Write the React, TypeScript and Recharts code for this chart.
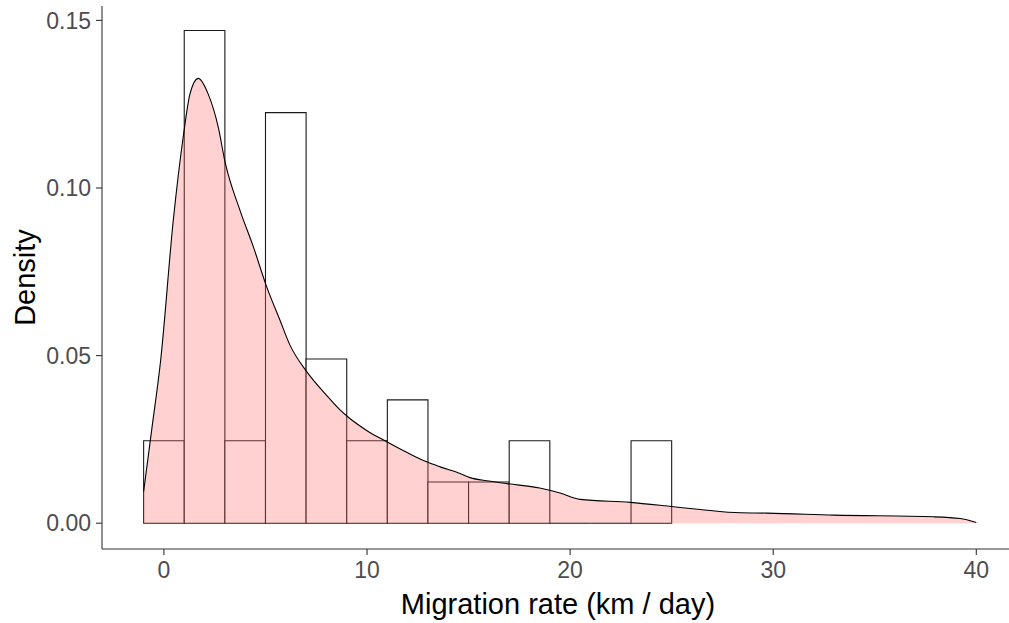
import { Area, ComposedChart, Label, ReferenceArea, ReferenceLine, XAxis, YAxis } from "recharts";

// kernel density estimate
const densityX = [
  -1, -0.6, -0.16, 0.46, 0.95, 1.28, 1.69, 2.18, 2.68, 3.0, 3.74, 4.4, 5.06, 5.71, 6.2, 7.03, 8.0,
  8.67, 9.08, 10.0, 10.97, 12.0, 12.94, 13.6, 14.58, 15.07, 16.0, 16.88, 18.5, 19.5, 20.5, 22.96,
  25.1, 26.4, 28.4, 29.7, 33.0, 37.9, 39.2, 40,
];
const densityY = [
  0.0095, 0.028, 0.0487, 0.0904, 0.1153, 0.128, 0.1327, 0.128, 0.118, 0.108, 0.0934, 0.0825,
  0.0705, 0.0606, 0.0532, 0.0452, 0.0382, 0.0338, 0.0316, 0.0276, 0.0243, 0.021, 0.0183, 0.0168,
  0.0148, 0.0136, 0.0126, 0.0118, 0.0105, 0.009, 0.0071, 0.0062, 0.0049, 0.0041, 0.0031, 0.003,
  0.0024, 0.0019, 0.0014, 0.0002,
];

// histogram, binwidth 2
const binStarts = [-1, 1, 3, 5, 7, 9, 11, 13, 15, 17, 19, 21, 23];
const binDensity = [
  0.0246, 0.147, 0.0246, 0.1225, 0.049, 0.0246, 0.0368, 0.0123, 0.0123, 0.0246, 0, 0, 0.0246,
];
const BIN_WIDTH = 2;

const xTicks = [0, 10, 20, 30, 40];
const yTicks = [0, 0.05, 0.1, 0.15];

const FONT = "'Liberation Sans', Arial, sans-serif";
const AXIS = "#333333";
const BAR_LINE = "#1a1a1a";
const TICK_TEXT = { fill: "#4D4D4D", fontSize: 23, fontFamily: FONT };

const data = densityX.map((x, i) => ({ x, y: densityY[i] }));

function XTitle(props: any) {
  const vb = props.viewBox ?? { x: 0, y: 0, width: 0 };
  return (
    <text x={558} y={vb.y + 65} textAnchor="middle" fontSize={29} fontFamily={FONT} fill="#000">
      Migration rate (km / day)
    </text>
  );
}

function YTitle(props: any) {
  const vb = props.viewBox ?? { x: 0, y: 0, height: 0 };
  const cy = vb.y + vb.height / 2;
  return (
    <text
      x={35}
      y={cy}
      transform={`rotate(-90 35 ${cy})`}
      textAnchor="middle"
      fontSize={29}
      fontFamily={FONT}
      fill="#000"
    >
      Density
    </text>
  );
}

export default function App() {
  return (
    <div style={{ position: "absolute", left: 0, top: 0, width: 1009, height: 623, overflow: "hidden", background: "#fff" }}>
      <ComposedChart width={1009} height={623} data={data} margin={{ top: 6, right: 0, bottom: 0, left: 0 }}>
        <XAxis
          type="number"
          dataKey="x"
          domain={[-3.05, 41.61]}
          allowDataOverflow
          ticks={xTicks}
          height={74}
          tick={TICK_TEXT}
          tickSize={6}
          tickMargin={7}
          stroke={AXIS}
          strokeWidth={1.1}
        >
          <Label content={XTitle} />
        </XAxis>
        <YAxis
          type="number"
          domain={[-0.0077, 0.1543]}
          allowDataOverflow
          ticks={yTicks}
          tickFormatter={(v: number) => v.toFixed(2)}
          width={102}
          tick={TICK_TEXT}
          tickSize={6}
          tickMargin={5}
          stroke={AXIS}
          strokeWidth={1.1}
        >
          <Label content={YTitle} />
        </YAxis>
        {binStarts.map((b, i) =>
          binDensity[i] > 0 ? (
            <ReferenceArea
              key={b}
              x1={b}
              x2={b + BIN_WIDTH}
              y1={0}
              y2={binDensity[i]}
              fill="#ffffff"
              fillOpacity={1}
              stroke={BAR_LINE}
              strokeWidth={1.1}
              ifOverflow="visible"
            />
          ) : (
            <ReferenceLine
              key={b}
              segment={[
                { x: b, y: 0 },
                { x: b + BIN_WIDTH, y: 0 },
              ]}
              stroke={BAR_LINE}
              strokeWidth={1.1}
              ifOverflow="visible"
            />
          ),
        )}
        <Area
          type="monotone"
          dataKey="y"
          fill="#FF6666"
          fillOpacity={0.3}
          stroke="#000"
          strokeWidth={1.1}
          dot={false}
          activeDot={false}
          isAnimationActive={false}
        />
      </ComposedChart>
    </div>
  );
}
